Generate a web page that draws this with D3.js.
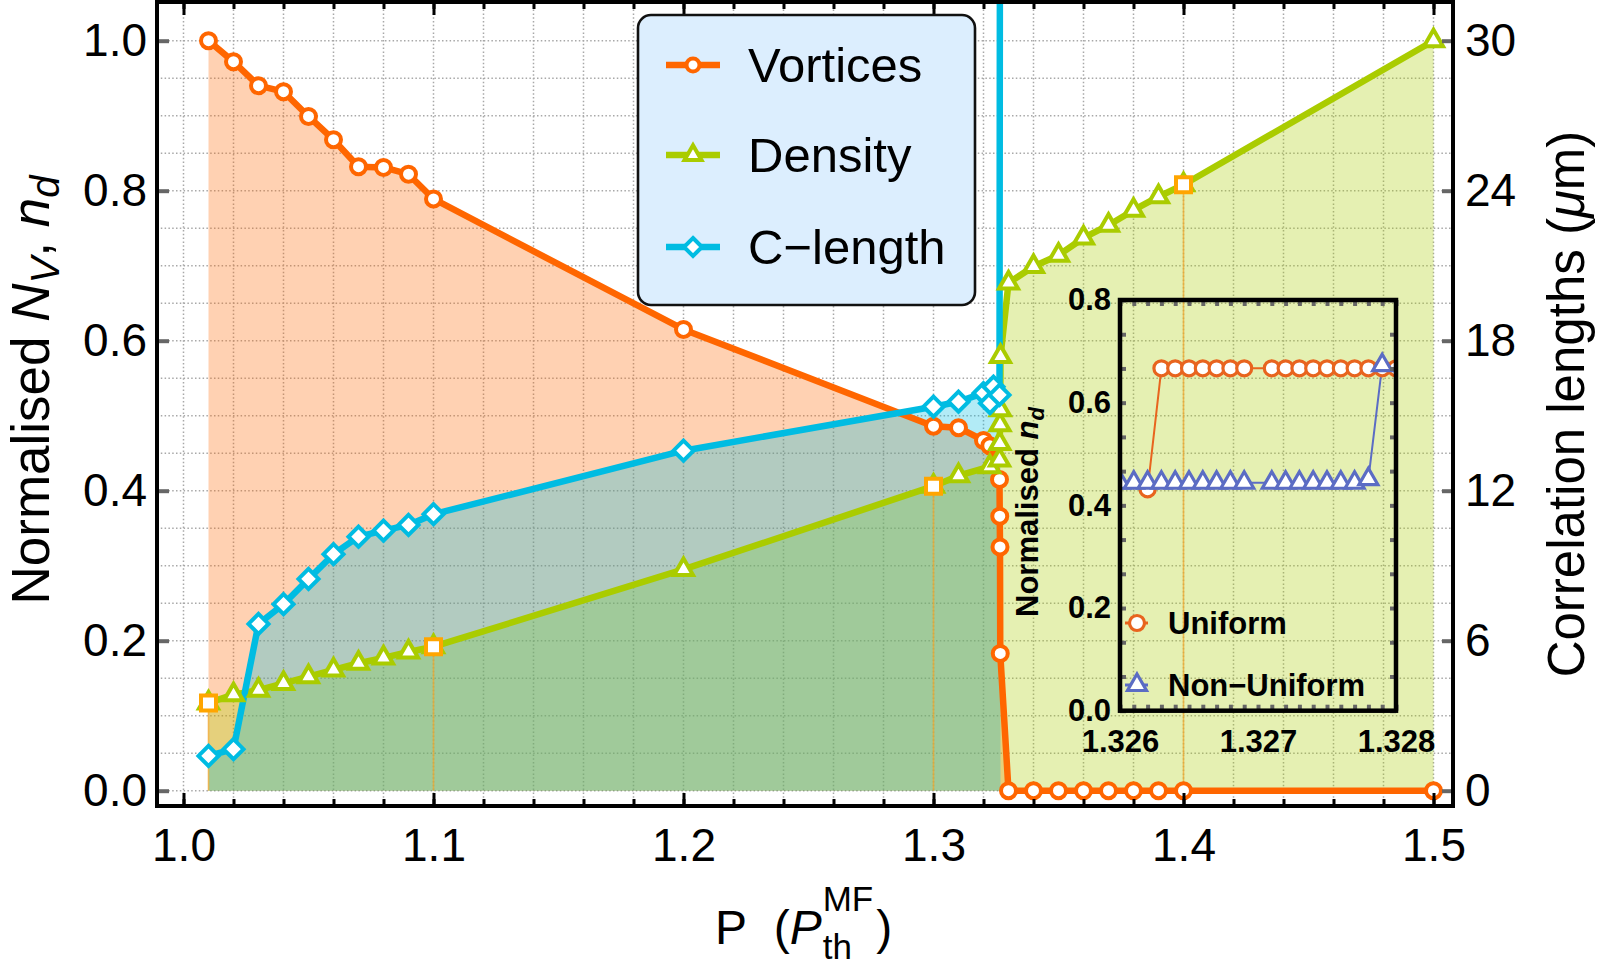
<!DOCTYPE html>
<html><head><meta charset="utf-8">
<script src="https://cdn.jsdelivr.net/npm/d3@7"></script>
<style>
body{margin:0;background:#fff;}
svg{display:block;font-family:"Liberation Sans",Arial,Helvetica,sans-serif;}
</style>
</head><body>
<svg id="c" width="1600" height="968"></svg>
<script>
// ---------------- DATA ----------------
const vortexP = [1.01,1.02,1.03,1.04,1.05,1.06,1.07,1.08,1.09,1.10,1.20,1.30,1.31,1.32,1.3225,1.3264,1.3265,1.3266,1.3267,1.33,1.34,1.35,1.36,1.37,1.38,1.39,1.40,1.50];
const vortexN = [1.000,0.972,0.940,0.932,0.899,0.868,0.832,0.831,0.822,0.789,0.615,0.486,0.484,0.467,0.460,0.415,0.366,0.325,0.183,0,0,0,0,0,0,0,0,0];

const densityP = [1.01,1.02,1.03,1.04,1.05,1.06,1.07,1.08,1.09,1.10,1.20,1.30,1.31,1.3225,1.3264,1.3265,1.3266,1.3267,1.3268,1.33,1.34,1.35,1.36,1.37,1.38,1.39,1.40,1.50];
const densityN = [0.117,0.128,0.134,0.143,0.152,0.161,0.170,0.177,0.185,0.192,0.295,0.406,0.420,0.432,0.441,0.463,0.488,0.508,0.579,0.677,0.699,0.714,0.737,0.754,0.774,0.792,0.808,1.000];

const clengthP  = [1.01,1.02,1.03,1.04,1.05,1.06,1.07,1.08,1.09,1.10,1.20,1.30,1.31,1.32,1.3226,1.324,1.3264,1.3268];
const clengthUm = [1.39,1.66,6.67,7.46,8.47,9.46,10.16,10.40,10.63,11.06,13.6,15.36,15.56,15.90,15.50,16.16,15.83,60];

const squareP = [1.01,1.10,1.30,1.40];
const squareN = [0.117,0.192,0.406,0.808];

const xTickValues = [1.0,1.1,1.2,1.3,1.4,1.5];
const xTickLabels = ["1.0","1.1","1.2","1.3","1.4","1.5"];
const yLeftTickValues = [0,0.2,0.4,0.6,0.8,1.0];
const yLeftTickLabels = ["0.0","0.2","0.4","0.6","0.8","1.0"];
const yRightTickValues = [0,6,12,18,24,30];
const yRightTickLabels = ["0","6","12","18","24","30"];

const legendLabels = ["Vortices","Density","C\u2212length"];

// inset
const uniformP = [1.3262,1.3263,1.3264,1.3265,1.3266,1.3267,1.3268,1.3269,1.3271,1.3272,1.3273,1.3274,1.3275,1.3276,1.3277,1.3278,1.3279,1.3280];
const uniformN = [0.431,0.667,0.667,0.667,0.667,0.667,0.667,0.667,0.667,0.667,0.667,0.667,0.667,0.667,0.667,0.667,0.667,0.667];
const nonUniformP = [1.3260,1.3261,1.3262,1.3263,1.3264,1.3265,1.3266,1.3267,1.3268,1.3269,1.3271,1.3272,1.3273,1.3274,1.3275,1.3276,1.3277,1.3278,1.3279];
const nonUniformN = [0.444,0.444,0.444,0.444,0.444,0.444,0.444,0.444,0.444,0.444,0.444,0.444,0.444,0.444,0.444,0.444,0.444,0.451,0.673];
const insetXTickValues = [1.326,1.327,1.328];
const insetXTickLabels = ["1.326","1.327","1.328"];
const insetYTickValues = [0,0.2,0.4,0.6,0.8];
const insetYTickLabels = ["0.0","0.2","0.4","0.6","0.8"];
const insetLegendLabels = ["Uniform","Non\u2212Uniform"];

// ---------------- STYLE ----------------
const C_OR = "#FF6600", C_GR = "#AACC00", C_CY = "#00BCE2", C_SQ = "#FFA500";
const C_IOR = "#E8641E", C_IBL = "#5B6CC4";
const LW = 6.5;

const svg = d3.select("#c");
const X0 = 157, X1 = 1453, Y0 = 2, Y1 = 806;

const x  = d3.scaleLinear().domain([1.0,1.5]).range([183.5,1433.5]);
const yL = d3.scaleLinear().domain([0,1]).range([790.7,40.7]);
const yR = d3.scaleLinear().domain([0,30]).range([790.7,40.7]);

const vortex  = vortexP.map((p,i)=>({p, v:vortexN[i]}));
const density = densityP.map((p,i)=>({p, v:densityN[i]}));
const clength = clengthP.map((p,i)=>({p, v:clengthUm[i]}));
const squares = squareP.map((p,i)=>({p, v:squareN[i]}));

const defs = svg.append("defs");
defs.append("clipPath").attr("id","plotClip").append("rect")
  .attr("x",X0).attr("y",Y0).attr("width",X1-X0).attr("height",Y1-Y0);

// grid
const grid = svg.append("g");
grid.selectAll("line.v").data(x.ticks(25)).join("line")
  .attr("x1",d=>x(d)).attr("x2",d=>x(d)).attr("y1",Y0).attr("y2",Y1)
  .attr("stroke","#a8a8a8").attr("stroke-width",1.5).attr("stroke-dasharray","1.5,2.3");
grid.selectAll("line.h").data(yL.ticks(20)).join("line")
  .attr("y1",d=>yL(d)).attr("y2",d=>yL(d)).attr("x1",X0).attr("x2",X1)
  .attr("stroke","#a8a8a8").attr("stroke-width",1.5).attr("stroke-dasharray","1.5,2.3");

const plot = svg.append("g").attr("clip-path","url(#plotClip)");

// fills
const areaL = d3.area().x(d=>x(d.p)).y0(yL(0)).y1(d=>yL(d.v));
const areaR = d3.area().x(d=>x(d.p)).y0(yR(0)).y1(d=>yR(d.v));
plot.append("path").datum(vortex).attr("d",areaL).attr("fill",C_OR).attr("fill-opacity",0.3);
plot.append("path").datum(density).attr("d",areaL).attr("fill",C_GR).attr("fill-opacity",0.3);
plot.append("path").datum(clength).attr("d",areaR).attr("fill",C_CY).attr("fill-opacity",0.3);

// drop lines
plot.selectAll("line.drop").data(squares).join("line")
  .attr("x1",d=>x(d.p)).attr("x2",d=>x(d.p)).attr("y1",d=>yL(d.v)).attr("y2",yL(0))
  .attr("stroke","#F0A830").attr("stroke-opacity",0.75).attr("stroke-width",1.6);

// lines
const lineL = d3.line().x(d=>x(d.p)).y(d=>yL(d.v));
const lineR = d3.line().x(d=>x(d.p)).y(d=>yR(d.v));
plot.append("path").datum(vortex).attr("d",lineL).attr("fill","none").attr("stroke",C_OR).attr("stroke-width",LW).attr("stroke-linejoin","round");
plot.append("path").datum(density).attr("d",lineL).attr("fill","none").attr("stroke",C_GR).attr("stroke-width",LW).attr("stroke-linejoin","round");
plot.append("path").datum(clength).attr("d",lineR).attr("fill","none").attr("stroke",C_CY).attr("stroke-width",LW).attr("stroke-linejoin","round");

// marker shapes
function triPath(s){const h=s*0.866;return `M0,${-2*h/3}L${s/2},${h/3}L${-s/2},${h/3}Z`;}
function diaPath(r){return `M0,${-r}L${r},0L0,${r}L${-r},0Z`;}
function sqPath(s){return `M${-s/2},${-s/2}h${s}v${s}h${-s}Z`;}

plot.selectAll("circle.vm").data(vortex).join("circle")
  .attr("cx",d=>x(d.p)).attr("cy",d=>yL(d.v)).attr("r",7.5)
  .attr("fill","#fff").attr("stroke",C_OR).attr("stroke-width",4);
plot.selectAll("path.dm").data(density).join("path")
  .attr("transform",d=>`translate(${x(d.p)},${yL(d.v)})`).attr("d",triPath(19))
  .attr("fill","#fff").attr("stroke",C_GR).attr("stroke-width",4).attr("stroke-linejoin","miter");
plot.selectAll("path.cm").data(clength).join("path")
  .attr("transform",d=>`translate(${x(d.p)},${yR(d.v)})`).attr("d",diaPath(10))
  .attr("fill","#fff").attr("stroke",C_CY).attr("stroke-width",4);
plot.selectAll("path.sm").data(squares).join("path")
  .attr("transform",d=>`translate(${x(d.p)},${yL(d.v)})`).attr("d",sqPath(15))
  .attr("fill","#fff").attr("stroke",C_SQ).attr("stroke-width",4);

// ---------------- AXES ----------------
const FS = 46;
function styleAxis(g, col, w){
  g.select(".domain").remove();
  g.selectAll(".tick line").attr("stroke",col).attr("stroke-width",w);
  g.selectAll(".tick text").attr("font-size",FS).attr("fill","#000")
    .attr("font-family","'Liberation Sans',Arial,sans-serif");
}
const minorX = x.ticks(25);
let g;
g = svg.append("g").attr("transform",`translate(0,${Y1})`)
  .call(d3.axisBottom(x).tickValues(minorX).tickSize(-7).tickFormat(""));
styleAxis(g,"#000",3);
g = svg.append("g").attr("transform",`translate(0,${Y1})`)
  .call(d3.axisBottom(x).tickValues(xTickValues).tickSize(-13).tickPadding(22)
  .tickFormat((d,i)=>xTickLabels[i]));
styleAxis(g,"#000",3);
g = svg.append("g").attr("transform",`translate(0,${Y0})`)
  .call(d3.axisTop(x).tickValues(minorX).tickSize(-7).tickFormat(""));
styleAxis(g,"#000",3);
g = svg.append("g").attr("transform",`translate(0,${Y0})`)
  .call(d3.axisTop(x).tickValues(xTickValues).tickSize(-13).tickFormat(""));
styleAxis(g,"#000",3);
g = svg.append("g").attr("transform",`translate(${X0},0)`)
  .call(d3.axisLeft(yL).tickValues(yLeftTickValues).tickSize(-12).tickPadding(10)
  .tickFormat((d,i)=>yLeftTickLabels[i]));
styleAxis(g,"#666",4);
g = svg.append("g").attr("transform",`translate(${X1},0)`)
  .call(d3.axisRight(yR).tickValues(yRightTickValues).tickSize(-11).tickPadding(12)
  .tickFormat((d,i)=>yRightTickLabels[i]));
styleAxis(g,"#666",4);

// frame
svg.append("rect").attr("x",X0).attr("y",Y0).attr("width",X1-X0).attr("height",Y1-Y0)
  .attr("fill","none").attr("stroke","#000").attr("stroke-width",4);

// titles
const lt = svg.append("text").attr("transform","translate(49,390) rotate(-90)")
  .attr("text-anchor","middle").attr("font-size",53).attr("fill","#000");
lt.append("tspan").text("Normalised ");
lt.append("tspan").attr("font-style","italic").text("N");
lt.append("tspan").attr("font-size",40).attr("font-style","italic").attr("dy",10).text("V");
lt.append("tspan").attr("dy",-10).text(", ");
lt.append("tspan").attr("font-style","italic").text("n");
lt.append("tspan").attr("font-size",40).attr("font-style","italic").attr("dy",10).text("d");

const rt = svg.append("text").attr("transform","translate(1584,404) rotate(-90)")
  .attr("text-anchor","middle").attr("font-size",51).attr("fill","#000");
rt.append("tspan").text("Correlation lengths (");
rt.append("tspan").attr("font-style","italic").text("\u03BC");
rt.append("tspan").text("m)");

const bt = svg.append("text").attr("x",715).attr("y",944).attr("font-size",48).attr("fill","#000");
bt.append("tspan").text("P\u00A0\u00A0(");
bt.append("tspan").attr("font-style","italic").text("P");
const bx = 715 + bt.node().getComputedTextLength() + 1;
const sup = svg.append("text").attr("x",bx).attr("y",911).attr("font-size",35).text("MF");
const sub = svg.append("text").attr("x",bx).attr("y",959).attr("font-size",35).text("th");
const bw = Math.max(sup.node().getComputedTextLength(), sub.node().getComputedTextLength());
svg.append("text").attr("x",bx+bw+3).attr("y",944).attr("font-size",48).text(")");

// ---------------- LEGEND ----------------
const lg = svg.append("g");
lg.append("rect").attr("x",638).attr("y",15).attr("width",337).attr("height",290).attr("rx",13)
  .attr("fill","#DCEEFE").attr("stroke","#111").attr("stroke-width",2.6);
const legRows = [65,155,247];
const legCols = [C_OR,C_GR,C_CY];
legRows.forEach((yy,i)=>{
  lg.append("line").attr("x1",666).attr("x2",720).attr("y1",yy).attr("y2",yy)
    .attr("stroke",legCols[i]).attr("stroke-width",LW);
  let m;
  if(i===0) m = lg.append("circle").attr("cx",693).attr("cy",yy).attr("r",6.5);
  else if(i===1) m = lg.append("path").attr("transform",`translate(693,${yy})`).attr("d",triPath(17));
  else m = lg.append("path").attr("transform",`translate(693,${yy})`).attr("d",diaPath(9));
  m.attr("fill","#fff").attr("stroke",legCols[i]).attr("stroke-width",4);
  lg.append("text").attr("x",748).attr("y",yy+17).attr("font-size",49).attr("fill","#000").text(legendLabels[i]);
});

// ---------------- INSET ----------------
const IX0=1120, IX1=1396, IY0=300, IY1=710.7;
const xi = d3.scaleLinear().domain([1.326,1.328]).range([IX0,IX1]);
const yi = d3.scaleLinear().domain([0,0.8]).range([IY1,IY0]);
defs.append("clipPath").attr("id","insetClip").append("rect")
  .attr("x",IX0).attr("y",IY0).attr("width",IX1-IX0).attr("height",IY1-IY0);
const inset = svg.append("g");
const ip = inset.append("g").attr("clip-path","url(#insetClip)");
const uni = uniformP.map((p,i)=>({p,v:uniformN[i]}));
const non = nonUniformP.map((p,i)=>({p,v:nonUniformN[i]}));
const lineI = d3.line().x(d=>xi(d.p)).y(d=>yi(d.v));
ip.append("path").datum(uni).attr("d",lineI).attr("fill","none").attr("stroke",C_IOR).attr("stroke-width",2);
ip.append("path").datum(non).attr("d",lineI).attr("fill","none").attr("stroke",C_IBL).attr("stroke-width",2);
ip.selectAll("circle.u").data(uni).join("circle")
  .attr("cx",d=>xi(d.p)).attr("cy",d=>yi(d.v)).attr("r",7.5)
  .attr("fill","#fff").attr("stroke",C_IOR).attr("stroke-width",3.2);
ip.selectAll("path.n").data(non).join("path")
  .attr("transform",d=>`translate(${xi(d.p)},${yi(d.v)})`).attr("d",triPath(19))
  .attr("fill","#fff").attr("stroke",C_IBL).attr("stroke-width",3.2);

// inset ticks (gray) and frame
const IFS = 31;
function styleInset(g){
  g.select(".domain").remove();
  g.selectAll(".tick line").attr("stroke","#666").attr("stroke-width",4);
  g.selectAll(".tick text").attr("font-size",IFS).attr("font-weight","bold").attr("fill","#000")
    .attr("font-family","'Liberation Sans',Arial,sans-serif");
}
const ixMinor = xi.ticks(20);
const iyMinor = d3.range(0,0.81,0.2/3);
g = inset.append("g").attr("transform",`translate(0,${IY1})`).call(d3.axisBottom(xi).tickValues(ixMinor).tickSize(-6).tickFormat("")); styleInset(g);
g = inset.append("g").attr("transform",`translate(0,${IY0})`).call(d3.axisTop(xi).tickValues(ixMinor).tickSize(-6).tickFormat("")); styleInset(g);
g = inset.append("g").attr("transform",`translate(${IX0},0)`).call(d3.axisLeft(yi).tickValues(iyMinor).tickSize(-6).tickFormat("")); styleInset(g);
g = inset.append("g").attr("transform",`translate(${IX1},0)`).call(d3.axisRight(yi).tickValues(iyMinor).tickSize(-6).tickFormat("")); styleInset(g);
g = inset.append("g").attr("transform",`translate(0,${IY1})`).call(d3.axisBottom(xi).tickValues(insetXTickValues).tickSize(0).tickPadding(19).tickFormat((d,i)=>insetXTickLabels[i])); styleInset(g);
g = inset.append("g").attr("transform",`translate(${IX0},0)`).call(d3.axisLeft(yi).tickValues(insetYTickValues).tickSize(0).tickPadding(9).tickFormat((d,i)=>insetYTickLabels[i])); styleInset(g);
inset.append("rect").attr("x",IX0).attr("y",IY0).attr("width",IX1-IX0).attr("height",IY1-IY0)
  .attr("fill","none").attr("stroke","#000").attr("stroke-width",4.5);

// inset y label
const il = inset.append("text").attr("transform","translate(1038,617) rotate(-90)")
  .attr("font-size",31).attr("font-weight","bold").attr("fill","#000");
il.append("tspan").text("Normalised ");
il.append("tspan").attr("font-style","italic").text("n");
il.append("tspan").attr("font-style","italic").attr("font-size",22).attr("dy",6).text("d");

// inset legend
const ilRows = [623,685];
ilRows.forEach((yy,i)=>{
  const col = i===0?C_IOR:C_IBL;
  inset.append("line").attr("x1",1125).attr("x2",1148).attr("y1",yy).attr("y2",yy).attr("stroke",col).attr("stroke-width",3);
  let m;
  if(i===0) m = inset.append("circle").attr("cx",1137).attr("cy",yy).attr("r",7.5);
  else m = inset.append("path").attr("transform",`translate(1137,${yy})`).attr("d",triPath(19));
  m.attr("fill","#fff").attr("stroke",col).attr("stroke-width",3.2);
  inset.append("text").attr("x",1168).attr("y",yy+11).attr("font-size",31).attr("font-weight","bold").attr("fill","#000").text(insetLegendLabels[i]);
});
</script>
</body></html>
